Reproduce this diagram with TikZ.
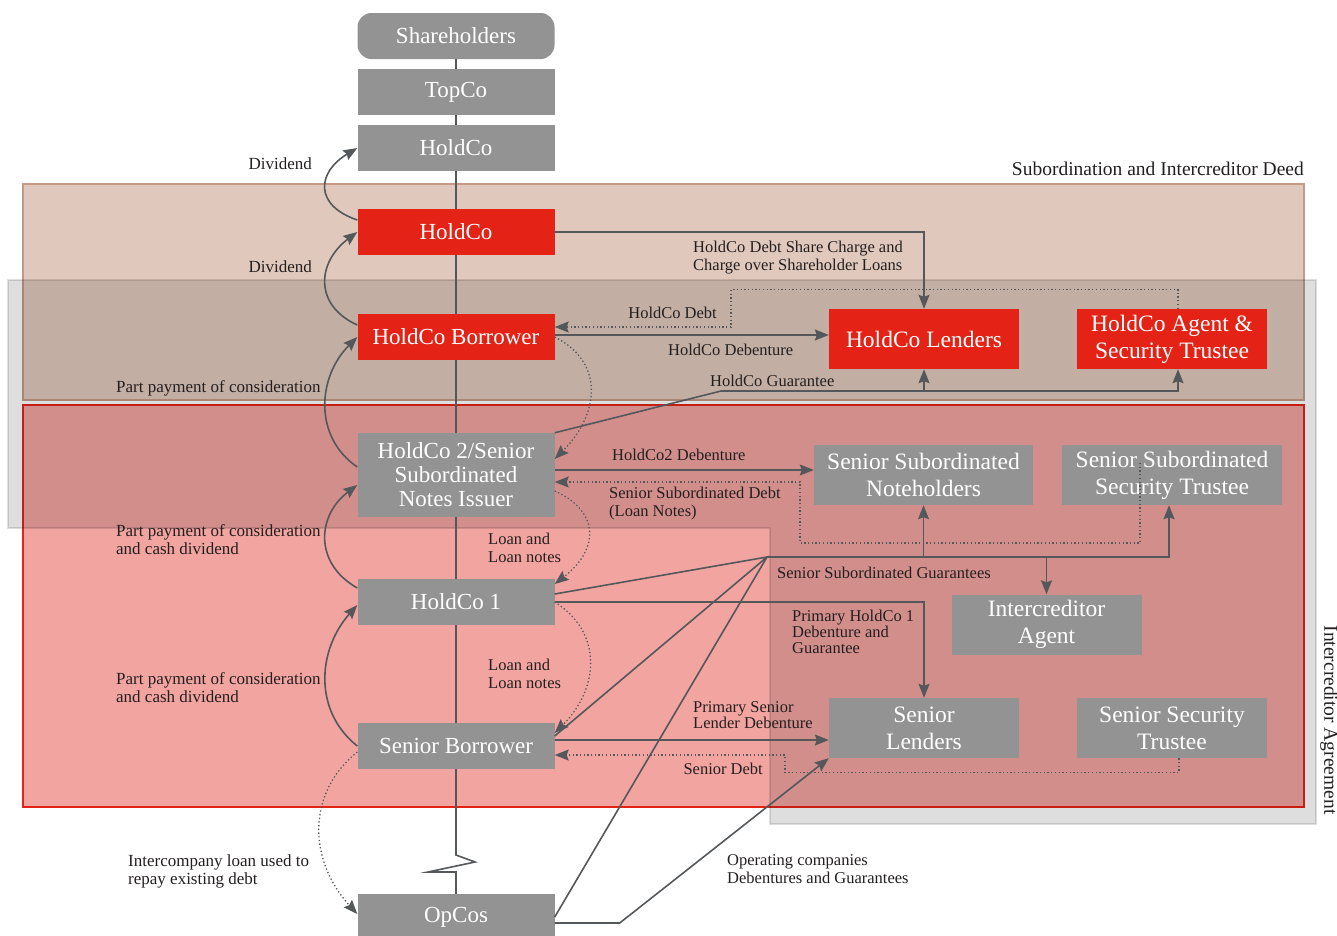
\documentclass[tikz,border=0pt]{standalone}
\usepackage{fontspec}
\setmainfont{Liberation Serif}
\usepackage{xcolor}
\usetikzlibrary{arrows.meta,positioning}
\definecolor{boxred}{HTML}{E42316}
\definecolor{boxgrey}{HTML}{939393}
\definecolor{linegrey}{HTML}{54585B}
\definecolor{brownfill}{HTML}{E1C8BC}
\definecolor{browndraw}{HTML}{C49A86}
\definecolor{redfill}{HTML}{F2A4A0}
\definecolor{labelblack}{HTML}{231F20}
\begin{document}
\begin{tikzpicture}[x=1pt,y=-1pt,
  every node/.style={inner sep=0pt},
  co/.style={fill=boxgrey,text=white,minimum width=197pt,minimum height=46pt,align=center,font=\fontsize{23}{24}\selectfont},
  redco/.style={co,fill=boxred},
  party/.style={co,minimum width=190pt,minimum height=60pt,font=\fontsize{23.5}{27}\selectfont},
  redparty/.style={party,fill=boxred},
  lbl/.style={text=labelblack,align=left,font=\fontsize{16.5}{18}\selectfont},
  leftlbl/.style={lbl,font=\fontsize{17}{18}\selectfont},
  biglbl/.style={lbl,font=\fontsize{19.5}{20}\selectfont},
  link/.style={draw=linegrey,line width=1.6pt},
  arr/.style={link,-{Stealth[length=14pt,width=11pt,inset=2pt]}},
  dots/.style={arr,line width=1.3pt,dash pattern=on 1.3pt off 2.4pt}]
\useasboundingbox (0,0) rectangle (1337,935);
\filldraw[fill=brownfill,draw=browndraw,line width=2pt] (23,184) rectangle (1304,400);
\filldraw[fill=redfill,draw=boxred,line width=2pt] (23,405) rectangle (1304,807);
\filldraw[fill=black,fill opacity=0.13,draw=black,draw opacity=0.12,line width=2.5pt] (8,280) -- (1316,280) -- (1316,824) -- (770,824) -- (770,528) -- (8,528) -- cycle;
\node[biglbl,anchor=east] at (1304,169) {Subordination and Intercreditor Deed};
\node[biglbl,rotate=-90] at (1329,720) {Intercreditor Agreement};

\node[co,rounded corners=14pt] (share) at (456,36) {Shareholders};
\node[co] (topco) at (456,92) {TopCo};
\node[co] (hc0) at (456,148) {HoldCo};
\node[redco] (hc) at (456,232) {HoldCo};
\node[redco] (hcb) at (456,337) {HoldCo Borrower};
\node[co,minimum height=84pt] (hc2) at (456,475) {HoldCo 2/Senior\\Subordinated\\Notes Issuer};
\node[co] (hc1) at (456,602) {HoldCo 1};
\node[co] (sb) at (456,746) {Senior Borrower};
\node[co] (opcos) at (456,917) {OpCos};
\node[redparty] (hlend) at (924,339) {HoldCo Lenders};
\node[redparty] (hagent) at (1172,339) {HoldCo Agent \&\\Security Trustee};
\node[party,minimum width=219pt] (ssnote) at (923.5,475) {Senior Subordinated\\Noteholders};
\node[party,minimum width=220pt] (sstrust) at (1172,475) {Senior Subordinated\\Security Trustee};
\node[party] (icagent) at (1046.5,624.5) {Intercreditor\\Agent};
\node[party] (slend) at (924,728) {Senior\\Lenders};
\node[party] (strust) at (1172,728) {Senior Security\\Trustee};

\draw[link] (share) -- (topco) -- (hc0) -- (hc) -- (hcb) -- (hc2) -- (hc1) -- (sb) -- ++(0,109) -- ++(19,7) -- ++(-47,10) -- ++(28,0) -- (opcos);

\draw[arr] ([yshift=12pt]hc.west) .. controls +(-44,-15) and +(-40,24) .. (hc0.west);
\draw[arr] ([yshift=12pt]hcb.west) .. controls +(-44,-20) and +(-40,30) .. (hc.west);
\draw[arr] ([yshift=8pt]hc2.west) .. controls +(-44,-30) and +(-40,40) .. (hcb.west);
\draw[arr] ([yshift=14pt]hc1.west) .. controls +(-44,-25) and +(-40,30) .. ([yshift=-10pt]hc2.west);
\draw[arr] (sb.west) .. controls +(-44,-35) and +(-40,45) .. ([yshift=-3pt]hc1.west);
\draw[dots] ([yshift=-6pt]sb.west) .. controls +(-50,40) and +(-50,-55) .. ([yshift=3pt]opcos.west);

\draw[dots] (hcb.east) .. controls +(50,25) and +(45,-45) .. ([yshift=16pt]hc2.east);
\draw[dots] ([yshift=-16pt]hc2.east) .. controls +(45,20) and +(45,-35) .. ([yshift=18pt]hc1.east);
\draw[dots] (hc1.east) .. controls +(48,30) and +(45,-45) .. ([yshift=13pt]sb.east);

\node[leftlbl,anchor=east] at (312,164) {Dividend};
\node[leftlbl,anchor=east] at (312,267) {Dividend};
\node[leftlbl,anchor=west] at (116,388) {Part payment of consideration};
\node[leftlbl,anchor=north west] at (116,524) {Part payment of consideration\\and cash dividend};
\node[leftlbl,anchor=north west] at (116,672) {Part payment of consideration\\and cash dividend};
\node[leftlbl,anchor=north west] at (128,854) {Intercompany loan used to\\repay existing debt};
\node[lbl,anchor=north west] at (488,533) {Loan and\\Loan notes};
\node[lbl,anchor=north west] at (488,659) {Loan and\\Loan notes};

\draw[arr] (hc.east) -| (hlend.north);
\draw[dots] ([xshift=6pt]hagent.north) -- ++(0,-19) -| (731,327) -- ([yshift=10pt]hcb.east);
\coordinate (hcbout) at ([yshift=2pt]hcb.east);
\draw[arr] (hcbout) -- (hcbout -| hlend.west);
\coordinate (gtee) at (721,391);
\draw[arr] (hc2.north east) -- (gtee) -| ([xshift=6pt]hagent.south);
\draw[arr] (gtee -| hlend.south) -- (hlend.south);
\node[lbl,anchor=north west] at (693,241) {HoldCo Debt Share Charge and\\Charge over Shareholder Loans};
\node[lbl,anchor=east] at (717,313) {HoldCo Debt};
\node[lbl,anchor=west] at (668,350) {HoldCo Debenture};
\node[lbl,anchor=west] at (710,381) {HoldCo Guarantee};

\coordinate (hc2out) at ([yshift=5pt]hc2.east);
\draw[arr] (hc2out) -- (hc2out -| ssnote.west);
\coordinate (ssdebt) at ([xshift=-32pt,yshift=12pt]sstrust.center);
\draw[dots] (ssdebt) -- ++(0,80) -| (800,482) -- ([yshift=-7pt]hc2.east);
\coordinate (fan) at (767,557);
\draw[link] ([yshift=8pt]hc1.east) -- (fan) -- ([yshift=10pt]sb.east);
\draw[link] (fan) -- (opcos.east);
\draw[arr] (fan) -| ([xshift=-3pt]sstrust.south);
\draw[arr] (fan -| ssnote.south) -- (ssnote.south);
\draw[arr] (fan -| icagent.north) -- (icagent.north);
\node[lbl,anchor=west] at (612,455) {HoldCo2 Debenture};
\node[lbl,anchor=north west] at (609,487) {Senior Subordinated Debt\\(Loan Notes)};
\node[lbl,anchor=west] at (777,573) {Senior Subordinated Guarantees};

\draw[arr] (hc1.east) -| (slend.north);
\coordinate (sbout) at ([yshift=6pt]sb.east);
\draw[arr] (sbout) -- (sbout -| slend.west);
\draw[dots] ([xshift=7pt]strust.south) -- ++(0,14) -| (785,755) -- ([yshift=-9pt]sb.east);
\draw[arr] ([yshift=-6pt]opcos.east) -- ++(65,0) -- (slend.south west);
\node[lbl,anchor=north west,font=\fontsize{16.5}{16}\selectfont] at (792,610) {Primary HoldCo 1\\Debenture and\\Guarantee};
\node[lbl,anchor=north west,font=\fontsize{16.5}{16}\selectfont] at (693,701) {Primary Senior\\Lender Debenture};
\node[lbl,anchor=east] at (763,769) {Senior Debt};
\node[lbl,anchor=north west] at (727,854) {Operating companies\\Debentures and Guarantees};
\end{tikzpicture}
\end{document}
